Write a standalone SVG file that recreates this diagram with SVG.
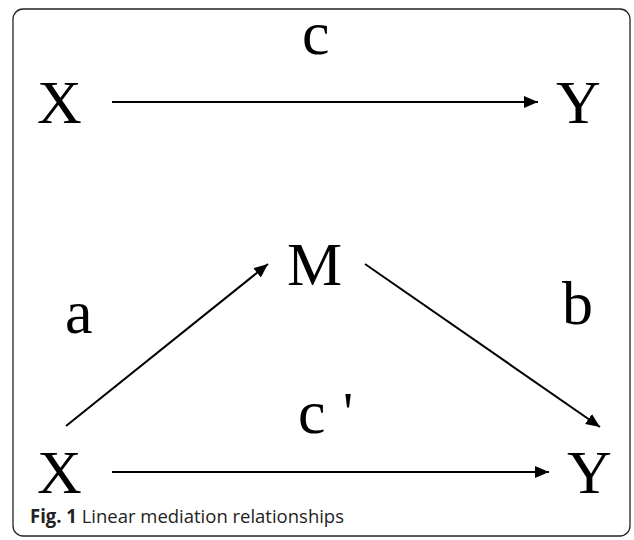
<svg xmlns="http://www.w3.org/2000/svg" width="634" height="540" viewBox="0 0 634 540">
<defs>
<style>
.v{font-family:"Liberation Serif","Times New Roman",serif;font-size:62px;fill:#000}
.e{stroke:#000;stroke-width:2;fill:none;marker-end:url(#ah)}
.cap{font-family:"Open Sans","Noto Sans",sans-serif;font-size:19px;fill:#222}
</style>
<marker id="ah" viewBox="0 0 14 12" refX="14" refY="6" markerWidth="14" markerHeight="12" markerUnits="userSpaceOnUse" orient="auto">
<path d="M0,0 L14,6 L0,12 z" fill="#000"/>
</marker>
</defs>
<rect x="13" y="9" width="617" height="527" rx="10" ry="10" fill="#fff" stroke="#222" stroke-width="1.3"/>
<g id="connectors">
<line class="e" x1="112" y1="102" x2="538" y2="102"/>
<line class="e" x1="66" y1="426" x2="268" y2="264"/>
<line class="e" x1="365" y1="264" x2="600" y2="427"/>
<line class="e" x1="112" y1="472" x2="549" y2="472"/>
</g>
<g id="X1"><text class="v" x="37" y="123">X</text></g>
<g id="Y1"><text class="v" x="556" y="123">Y</text></g>
<g id="M"><text class="v" x="287" y="285">M</text></g>
<g id="X2"><text class="v" x="37" y="493">X</text></g>
<g id="Y2"><text class="v" x="567" y="493">Y</text></g>
<g id="labels">
<text class="v" x="302" y="54">c</text>
<text class="v" x="65" y="333">a</text>
<text class="v" x="562" y="324">b</text>
<text class="v" x="298" y="433">c<tspan x="343" y="432" font-size="56">'</tspan></text>
</g>
<text class="cap" x="30" y="523" textLength="314" lengthAdjust="spacingAndGlyphs"><tspan font-weight="bold">Fig. 1</tspan> Linear mediation relationships</text>
</svg>
